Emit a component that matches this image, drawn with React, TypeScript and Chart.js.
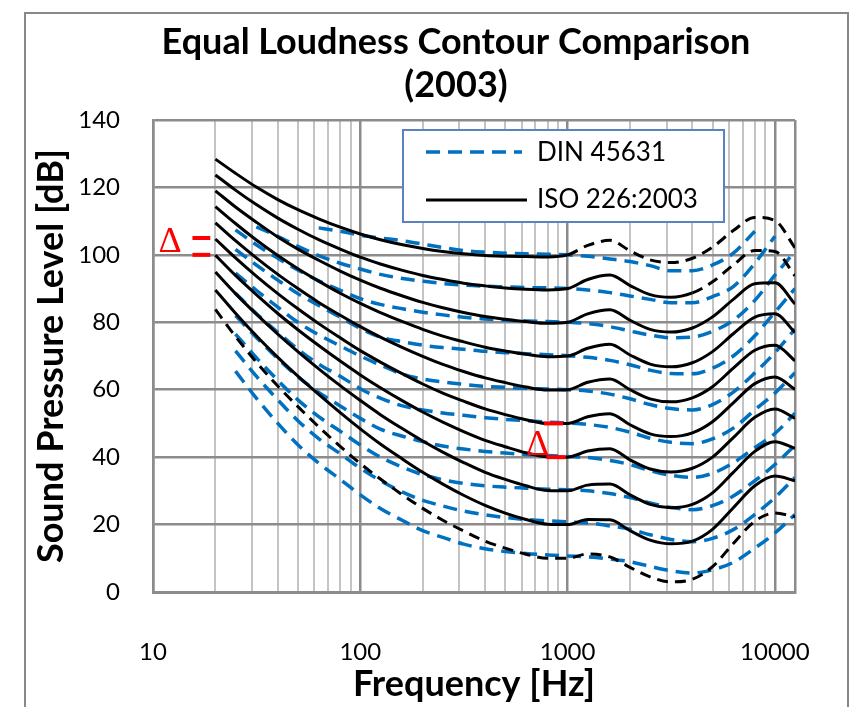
import { useEffect, useRef } from 'react';
import { Chart, registerables } from 'chart.js';

Chart.register(...registerables);

// ---------- data ----------
const isoFreq = [20, 25, 31.5, 40, 50, 63, 80, 100, 125, 160, 200, 250, 315, 400, 500, 630, 800, 1000, 1250, 1600, 2000, 2500, 3150, 4000, 5000, 6300, 8000, 10000, 12500];

const iso10 = [83.8, 75.8, 68.2, 61.1, 55.0, 49.0, 43.2, 38.1, 33.5, 28.8, 24.8, 21.3, 18.1, 15.1, 13.0, 11.2, 10.0, 10.0, 11.3, 10.4, 7.3, 4.5, 3.0, 3.8, 7.5, 14.4, 21.0, 23.4, 22.3];
const iso20 = [89.6, 82.7, 76.0, 69.6, 64.0, 58.6, 53.2, 48.4, 43.9, 39.4, 35.5, 32.0, 28.7, 25.7, 23.4, 21.5, 20.1, 20.0, 21.5, 21.4, 18.2, 15.4, 14.3, 15.1, 18.6, 25.0, 31.5, 34.4, 33.0];
const iso30 = [94.9, 88.5, 82.4, 76.5, 71.3, 66.2, 61.2, 56.8, 52.6, 48.4, 44.8, 41.5, 38.4, 35.5, 33.4, 31.5, 30.1, 30.0, 31.7, 32.0, 28.8, 26.0, 25.0, 26.0, 29.4, 35.5, 41.7, 44.6, 42.6];
const iso40 = [99.9, 93.9, 88.2, 82.6, 77.8, 73.1, 68.5, 64.4, 60.6, 56.7, 53.4, 50.4, 47.6, 45.0, 43.1, 41.3, 40.1, 40.0, 41.8, 42.5, 39.2, 36.5, 35.6, 36.7, 40.0, 45.8, 51.8, 54.3, 51.5];
const iso50 = [104.7, 99.1, 93.7, 88.5, 84.0, 79.6, 75.4, 71.6, 68.2, 64.7, 61.7, 59.0, 56.6, 54.3, 52.6, 51.1, 50.0, 50.0, 52.0, 52.9, 49.6, 46.9, 46.1, 47.2, 50.5, 56.1, 61.8, 63.8, 60.1];
const iso60 = [109.5, 104.2, 99.1, 94.2, 90.0, 85.9, 82.1, 78.7, 75.6, 72.5, 69.9, 67.5, 65.4, 63.5, 62.1, 60.8, 59.9, 60.0, 62.2, 63.2, 60.0, 57.3, 56.4, 57.6, 60.9, 66.4, 71.7, 73.2, 68.6];
const iso70 = [114.3, 109.3, 104.4, 99.8, 95.9, 92.2, 88.6, 85.6, 82.9, 80.2, 77.9, 75.9, 74.2, 72.6, 71.5, 70.5, 69.8, 70.0, 72.3, 73.5, 70.3, 67.6, 66.8, 68.0, 71.3, 76.6, 81.5, 82.5, 77.0];
const iso80 = [119.0, 114.2, 109.7, 105.3, 101.7, 98.4, 95.2, 92.5, 90.1, 87.8, 85.9, 84.3, 82.9, 81.7, 80.9, 80.2, 79.7, 80.0, 82.5, 83.7, 80.6, 77.9, 77.1, 78.3, 81.6, 86.8, 91.4, 91.7, 85.4];
const iso90 = [123.7, 119.2, 114.9, 110.9, 107.6, 104.5, 101.7, 99.3, 97.3, 95.4, 93.9, 92.7, 91.6, 90.8, 90.2, 89.8, 89.6, 90.0, 92.7, 94.0, 90.9, 88.2, 87.4, 88.7, 92.0, 97.0, 101.3, 101.0, 93.8];
const iso100 = [128.4, 124.2, 120.1, 116.4, 113.4, 110.7, 108.2, 106.2, 104.5, 103.0, 101.9, 101.0, 100.3, 99.8, 99.6, 99.5, 99.4, 100.0, 102.8, 104.3, 101.2, 98.5, 97.7, 99.0, 102.3, 107.2, 111.1, 110.2, 102.1];

const dinFreq = [20, 25, 31.5, 40, 50, 63, 80, 100, 125, 160, 200, 250, 315, 400, 500, 630, 800, 1000, 1250, 1600, 2000, 2500, 3150, 4000, 5000, 6300, 8000, 10000, 12500];

const din10 = [null, 65.5, 57.5, 50.0, 43.7, 38.2, 33.4, 28.8, 24.8, 21.2, 18.2, 16.2, 14.2, 12.8, 12.0, 11.4, 11.0, 10.7, 10.4, 9.8, 9.0, 7.6, 6.3, 5.6, 6.6, 8.8, 13.0, 17.5, 23.0];
const din20 = [null, 71.5, 64.0, 57.0, 50.8, 45.5, 41.0, 36.7, 33.0, 29.6, 27.2, 25.5, 24.0, 22.9, 22.1, 21.5, 21.1, 20.8, 20.5, 19.6, 18.6, 17.0, 15.6, 14.9, 15.9, 18.5, 23.0, 28.0, 34.0];
const din30 = [null, 76.5, 69.5, 62.8, 57.0, 52.0, 47.7, 43.6, 40.0, 37.0, 34.8, 33.3, 32.2, 31.5, 31.1, 30.8, 30.5, 30.3, 30.0, 29.2, 28.0, 26.4, 25.1, 24.4, 25.6, 28.5, 33.0, 37.8, 43.5];
const din40 = [null, 82.0, 75.5, 69.2, 63.8, 59.2, 55.2, 51.5, 48.3, 46.2, 44.6, 43.3, 42.4, 41.7, 41.2, 40.8, 40.5, 40.2, 39.9, 39.0, 37.8, 36.0, 34.6, 34.0, 35.2, 38.3, 42.8, 47.0, 53.0];
const din50 = [null, 88.6, 82.6, 77.0, 72.0, 67.6, 64.0, 60.3, 57.5, 55.2, 54.0, 53.1, 52.4, 51.7, 51.2, 50.8, 50.4, 50.1, 49.7, 48.8, 47.4, 45.6, 44.4, 44.0, 45.4, 48.6, 54.0, 59.0, 65.0];
const din60 = [null, 94.6, 89.5, 84.5, 80.0, 76.3, 73.0, 70.0, 67.3, 64.6, 63.2, 62.3, 61.6, 61.0, 60.7, 60.4, 60.2, 60.0, 59.6, 58.7, 57.3, 55.6, 54.4, 54.0, 55.6, 59.3, 65.0, 71.0, 78.0];
const din70 = [null, 101.6, 97.0, 92.5, 88.5, 85.0, 81.5, 78.2, 75.6, 74.2, 73.2, 72.5, 72.0, 71.4, 71.0, 70.7, 70.4, 70.1, 69.6, 68.7, 67.4, 65.8, 64.8, 64.7, 66.4, 70.0, 76.0, 83.0, 90.0];
const din80 = [null, 107.4, 103.0, 99.0, 95.5, 92.3, 89.5, 87.0, 85.3, 84.0, 83.0, 82.2, 81.5, 81.0, 80.6, 80.4, 80.2, 80.0, 79.6, 78.7, 77.4, 76.2, 75.4, 75.6, 77.3, 80.6, 86.5, 94.0, 101.0];
const din90 = [null, null, 108.3, 105.5, 102.5, 99.8, 97.5, 95.8, 94.2, 93.0, 92.2, 91.5, 91.0, 90.7, 90.5, 90.3, 90.2, 90.0, 89.6, 88.8, 87.8, 86.8, 85.8, 85.8, 87.6, 90.6, 97.5, 105.5, null];
const din100 = [null, null, null, null, null, 108.0, 107.0, 105.8, 105.0, 104.2, 103.2, 102.2, 101.3, 100.8, 100.5, 100.3, 100.2, 100.0, 99.6, 98.8, 98.0, 96.8, 95.3, 95.3, 97.0, 100.5, 107.0, null, null];

const phonLevels = [10, 20, 30, 40, 50, 60, 70, 80, 90, 100];
const isoCurves = [iso10, iso20, iso30, iso40, iso50, iso60, iso70, iso80, iso90, iso100];
const dinCurves = [din10, din20, din30, din40, din50, din60, din70, din80, din90, din100];

// ISO contours drawn dashed from this frequency on (informative range)
const isoDashFromHz = [0, Infinity, Infinity, Infinity, Infinity, Infinity, Infinity, Infinity, 4000, 1000];

const decadeLabels = [10, 100, 1000, 10000];
const freqMin = 10;
const freqMax = 12500;
const dbMin = 0;
const dbMax = 140;
const dbStep = 20;

// red delta markers
const deltaBarStartHz = [15.5, 15.5, 770, 790];
const deltaBarEndHz = [18.9, 18.9, 950, 980];
const deltaBarDb = [105, 100, 50, 40];
const deltaSymbolHz = [12.1, 716];
const deltaSymbolDb = [104.4, 44.1];

const FONT = 'Lato';

export default function App() {
  const ref = useRef<HTMLCanvasElement | null>(null);

  useEffect(() => {
    const canvas = ref.current;
    if (!canvas) return;

    const gridHz: number[] = [];
    for (let d = 10; d < 10000; d *= 10) {
      for (let m = 1; m <= 9; m++) gridHz.push(d * m);
    }
    gridHz.push(10000, freqMax);
    const isMajor = (v: number) => decadeLabels.includes(v) || v === freqMax;

    const datasets: any[] = [];
    deltaBarDb.forEach((db, i) => {
      datasets.push({
        data: [{ x: deltaBarStartHz[i], y: db }, { x: deltaBarEndHz[i], y: db }],
        borderColor: '#ff0000',
        borderWidth: 4,
        tension: 0,
        cubicInterpolationMode: 'default',
      });
    });
    isoCurves.forEach((vals, i) => {
      const from = isoDashFromHz[i];
      datasets.push({
        label: 'ISO ' + phonLevels[i],
        data: isoFreq.map((f, j) => ({ x: f, y: vals[j] })),
        borderColor: '#000000',
        borderWidth: 3,
        segment: {
          borderDash: (ctx: any) => (ctx.p0.parsed.x >= from ? [11, 7] : undefined),
        },
      });
    });
    dinCurves.forEach((vals, i) => {
      datasets.push({
        label: 'DIN ' + phonLevels[i],
        data: dinFreq.map((f, j) => ({ x: f, y: vals[j] })),
        borderColor: '#0070C0',
        borderWidth: 3.5,
        borderDash: [14, 8],
      });
    });

    const decor = {
      id: 'decor',
      beforeDraw(chart: any) {
        const c = chart.ctx;
        c.save();
        c.fillStyle = '#ffffff';
        c.fillRect(0, 0, chart.width, chart.height);
        c.restore();
      },
      afterDraw(chart: any) {
        const c = chart.ctx;
        const xs = chart.scales.x;
        const ys = chart.scales.y;
        c.save();
        // outer frame
        c.strokeStyle = '#888888';
        c.lineWidth = 2;
        c.strokeRect(25, 13, 823, 730);
        // title
        c.fillStyle = '#000';
        c.font = `bold 36px ${FONT}`;
        c.textAlign = 'center';
        c.textBaseline = 'middle';
        c.fillText('Equal Loudness Contour Comparison', 456, 42);
        c.fillText('(2003)', 456, 85);
        // legend
        const lx = 403, ly = 130, lw = 321, lh = 92;
        c.fillStyle = '#ffffff';
        c.fillRect(lx, ly, lw, lh);
        c.strokeStyle = '#5b82c0';
        c.lineWidth = 2;
        c.strokeRect(lx, ly, lw, lh);
        c.strokeStyle = '#0070C0';
        c.lineWidth = 3.5;
        c.setLineDash([14, 8]);
        c.beginPath();
        c.moveTo(426, 152);
        c.lineTo(522, 152);
        c.stroke();
        c.setLineDash([]);
        c.strokeStyle = '#000';
        c.lineWidth = 3;
        c.beginPath();
        c.moveTo(426, 200);
        c.lineTo(527, 200);
        c.stroke();
        c.fillStyle = '#000';
        c.font = `26px ${FONT}`;
        c.textAlign = 'left';
        c.textBaseline = 'middle';
        c.fillText('DIN 45631', 537, 153);
        c.fillText('ISO 226:2003', 537, 200);
        // delta symbols
        c.fillStyle = '#ff0000';
        c.font = '36px "Liberation Serif"';
        c.textAlign = 'center';
        c.textBaseline = 'alphabetic';
        deltaSymbolHz.forEach((f, i) => {
          c.fillText('\u0394', xs.getPixelForValue(f), ys.getPixelForValue(deltaSymbolDb[i]) + 12);
        });
        c.restore();
      },
    };

    const chart = new Chart(canvas, {
      type: 'line',
      data: { datasets },
      options: {
        animation: false,
        responsive: false,
        devicePixelRatio: 1,
        events: [],
        layout: { padding: { top: 120, right: 66, bottom: 0, left: 0 } },
        elements: {
          point: { radius: 0 },
          line: { cubicInterpolationMode: 'monotone', borderCapStyle: 'butt', fill: false },
        },
        plugins: {
          legend: { display: false },
          tooltip: { enabled: false },
          title: { display: false },
        },
        scales: {
          x: {
            type: 'logarithmic',
            min: freqMin,
            max: freqMax,
            afterBuildTicks: (s: any) => {
              s.ticks = gridHz.map((v) => ({ value: v }));
            },
            afterFit: (s: any) => {
              s.height = 115;
            },
            ticks: {
              autoSkip: false,
              maxRotation: 0,
              minRotation: 0,
              padding: 46,
              color: '#000',
              font: { family: FONT, size: 24 },
              callback: (v: any) => (decadeLabels.includes(Number(v)) ? String(v) : ''),
            },
            grid: {
              drawTicks: false,
              color: (ctx: any) => (isMajor(ctx.tick?.value) ? '#8c8c8c' : '#c4c4c4'),
              lineWidth: (ctx: any) => (isMajor(ctx.tick?.value) ? 2.5 : 2),
            },
            border: { color: '#8c8c8c', width: 3 },
            title: {
              display: true,
              text: 'Frequency [Hz]',
              color: '#000',
              font: { family: FONT, size: 36, weight: 'bold' },
              padding: { top: 0, bottom: 1 },
            },
          },
          y: {
            type: 'linear',
            min: dbMin,
            max: dbMax,
            afterFit: (s: any) => {
              s.width = 153;
            },
            ticks: {
              stepSize: dbStep,
              padding: 33,
              color: '#000',
              font: { family: FONT, size: 24 },
            },
            grid: { drawTicks: false, color: '#8c8c8c', lineWidth: 2.5 },
            border: { color: '#8c8c8c', width: 2.5 },
            title: {
              display: true,
              text: 'Sound Pressure Level [dB]',
              color: '#000',
              font: { family: FONT, size: 36, weight: 'bold' },
              padding: { top: 30, bottom: 0 },
            },
          },
        },
      },
      plugins: [decor],
    } as any);

    return () => chart.destroy();
  }, []);

  return (
    <div style={{ position: 'absolute', left: 0, top: 0, width: 861, height: 707, overflow: 'hidden' }}>
      <canvas ref={ref} width={861} height={707} style={{ display: 'block' }} />
    </div>
  );
}
